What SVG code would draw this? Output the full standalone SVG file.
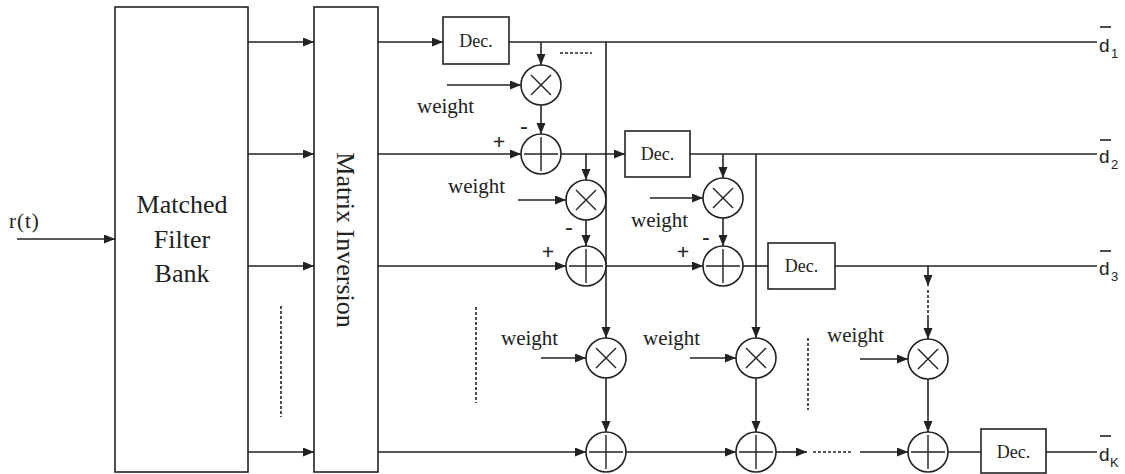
<svg xmlns="http://www.w3.org/2000/svg" width="1125" height="474" viewBox="0 0 1125 474">
<style>
.box{fill:#fff;stroke:#222;stroke-width:1.6}
.op{fill:#fff;stroke:#222;stroke-width:1.6}
.sym{stroke:#222;stroke-width:1.4;fill:none}
.ln{stroke:#222;stroke-width:1.6;fill:none}
.arr{stroke:#222;stroke-width:1.6;fill:none;marker-end:url(#ah)}
.dash{stroke:#222;stroke-width:1.6;fill:none;stroke-dasharray:3,2}
.big{font-family:"Liberation Serif",serif;font-size:26px;fill:#222}
.dec{font-family:"Liberation Serif",serif;font-size:18px;fill:#222}
.w{font-family:"Liberation Serif",serif;font-size:21px;fill:#222}
.pm{font-family:"Liberation Serif",serif;font-size:22px;font-weight:bold;fill:#222}
.out{font-family:"Liberation Sans",sans-serif;font-size:19px;fill:#222}
.sub{font-family:"Liberation Sans",sans-serif;font-size:13px;fill:#222}
</style>
<defs>
<marker id="ah" markerUnits="userSpaceOnUse" markerWidth="12" markerHeight="10" refX="11" refY="4.5" orient="auto">
<path d="M0,0 L11,4.5 L0,9 z" fill="#222"/>
</marker>
<g id="mul"><circle class="op" r="20"/><path class="sym" d="M-10,-10 L10,10 M-10,10 L10,-10"/></g>
<g id="add"><circle class="op" r="20"/><path class="sym" d="M-17,0 L17,0 M0,-17 L0,17"/></g>
</defs>
<rect width="1125" height="474" fill="#fff"/>

<g id="connectors">
<line class="arr" x1="17" y1="239" x2="115" y2="239"/>
<line class="arr" x1="248" y1="42" x2="314" y2="42"/>
<line class="arr" x1="248" y1="154" x2="314" y2="154"/>
<line class="arr" x1="248" y1="266" x2="314" y2="266"/>
<line class="arr" x1="248" y1="452" x2="314" y2="452"/>
<line class="dash" x1="281" y1="306" x2="281" y2="417"/>
<line class="arr" x1="378" y1="42" x2="443" y2="42"/>
<line class="ln" x1="509" y1="42" x2="1097" y2="42"/>
<line class="arr" x1="541" y1="42" x2="541" y2="65"/>
<line class="dash" x1="560" y1="53" x2="592" y2="53"/>
<line class="arr" x1="447" y1="85" x2="521" y2="85"/>
<line class="arr" x1="541" y1="105" x2="541" y2="134"/>
<line class="arr" x1="606" y1="42" x2="606" y2="338"/>
<line class="arr" x1="378" y1="154" x2="521" y2="154"/>
<line class="arr" x1="561" y1="154" x2="625" y2="154"/>
<line class="ln" x1="690" y1="154" x2="1097" y2="154"/>
<line class="arr" x1="586" y1="154" x2="586" y2="180"/>
<line class="arr" x1="518" y1="200" x2="566" y2="200"/>
<line class="arr" x1="586" y1="220" x2="586" y2="246"/>
<line class="arr" x1="723" y1="154" x2="723" y2="178"/>
<line class="arr" x1="650" y1="198" x2="703" y2="198"/>
<line class="arr" x1="723" y1="218" x2="723" y2="246"/>
<line class="arr" x1="756" y1="154" x2="756" y2="338"/>
<line class="arr" x1="378" y1="266" x2="566" y2="266"/>
<line class="arr" x1="606" y1="266" x2="703" y2="266"/>
<line class="ln" x1="743" y1="266" x2="768" y2="266"/>
<line class="ln" x1="835" y1="266" x2="1097" y2="266"/>
<line class="arr" x1="928" y1="266" x2="928" y2="286"/>
<line class="dash" x1="928" y1="290" x2="928" y2="316"/>
<line class="arr" x1="928" y1="316" x2="928" y2="339"/>
<line class="arr" x1="860" y1="359" x2="908" y2="359"/>
<line class="arr" x1="928" y1="379" x2="928" y2="432"/>
<line class="dash" x1="808" y1="338" x2="808" y2="410"/>
<line class="arr" x1="378" y1="452" x2="586" y2="452"/>
<line class="arr" x1="541" y1="358" x2="586" y2="358"/>
<line class="arr" x1="606" y1="378" x2="606" y2="432"/>
<line class="dash" x1="476" y1="307" x2="476" y2="403"/>
<line class="arr" x1="626" y1="452" x2="736" y2="452"/>
<line class="arr" x1="690" y1="358" x2="736" y2="358"/>
<line class="arr" x1="756" y1="378" x2="756" y2="432"/>
<line class="arr" x1="776" y1="452" x2="807" y2="452"/>
<line class="dash" x1="813" y1="452" x2="852" y2="452"/>
<line class="arr" x1="860" y1="452" x2="908" y2="452"/>
<line class="ln" x1="948" y1="452" x2="981" y2="452"/>
<line class="ln" x1="1046" y1="452" x2="1097" y2="452"/>
</g>

<g id="input-label"><text class="w" x="9" y="228" letter-spacing="1">r(t)</text></g>

<g id="matched-filter-bank">
<rect class="box" x="115" y="7" width="133" height="465"/>
<text class="big" text-anchor="middle" x="182" y="213">Matched</text>
<text class="big" text-anchor="middle" x="182" y="248">Filter</text>
<text class="big" text-anchor="middle" x="182" y="282">Bank</text>
</g>

<g id="matrix-inversion">
<rect class="box" x="314" y="7" width="64" height="465"/>
<text class="big" font-size="30" text-anchor="middle" transform="translate(337,240) rotate(90)">Matrix Inversion</text>
</g>

<g id="dec1"><rect class="box" x="443" y="17" width="66" height="47"/><text class="dec" x="476" y="47" text-anchor="middle">Dec.</text></g>
<g id="dec2"><rect class="box" x="625" y="131" width="65" height="46"/><text class="dec" x="657.5" y="160" text-anchor="middle">Dec.</text></g>
<g id="dec3"><rect class="box" x="768" y="243" width="67" height="46"/><text class="dec" x="801.5" y="272" text-anchor="middle">Dec.</text></g>
<g id="decK"><rect class="box" x="981" y="429" width="65" height="44"/><text class="dec" x="1013.5" y="458" text-anchor="middle">Dec.</text></g>

<g id="mul1"><use href="#mul" x="541" y="85"/><text class="w" x="417" y="113">weight</text></g>
<g id="add1"><use href="#add" x="541" y="154"/><text class="pm" x="524" y="133" text-anchor="middle">-</text><text class="pm" x="499" y="149" text-anchor="middle">+</text></g>

<g id="mul2"><use href="#mul" x="586" y="200"/><text class="w" x="448" y="193">weight</text></g>
<g id="add2"><use href="#add" x="586" y="266"/><text class="pm" x="569" y="234" text-anchor="middle">-</text><text class="pm" x="548" y="259" text-anchor="middle">+</text></g>

<g id="mul3"><use href="#mul" x="723" y="198"/><text class="w" x="631" y="227">weight</text></g>
<g id="add3"><use href="#add" x="723" y="266"/><text class="pm" x="706" y="244" text-anchor="middle">-</text><text class="pm" x="683" y="259" text-anchor="middle">+</text></g>

<g id="mul4"><use href="#mul" x="606" y="358"/><text class="w" x="501" y="345">weight</text></g>
<g id="add4"><use href="#add" x="606" y="452"/></g>

<g id="mul5"><use href="#mul" x="756" y="358"/><text class="w" x="643" y="345">weight</text></g>
<g id="add5"><use href="#add" x="756" y="452"/></g>

<g id="mul6"><use href="#mul" x="928" y="359"/><text class="w" x="827" y="342">weight</text></g>
<g id="add6"><use href="#add" x="928" y="452"/></g>

<g id="out1"><line class="ln" x1="1100" y1="27" x2="1111" y2="27"/><text class="out" x="1099" y="52">d</text><text class="sub" x="1111" y="58">1</text></g>
<g id="out2"><line class="ln" x1="1100" y1="140" x2="1111" y2="140"/><text class="out" x="1099" y="163">d</text><text class="sub" x="1111" y="169">2</text></g>
<g id="out3"><line class="ln" x1="1100" y1="251" x2="1111" y2="251"/><text class="out" x="1099" y="275">d</text><text class="sub" x="1111" y="281">3</text></g>
<g id="outK"><line class="ln" x1="1100" y1="436" x2="1111" y2="436"/><text class="out" x="1099" y="461">d</text><text class="sub" x="1110" y="467">K</text></g>
</svg>
